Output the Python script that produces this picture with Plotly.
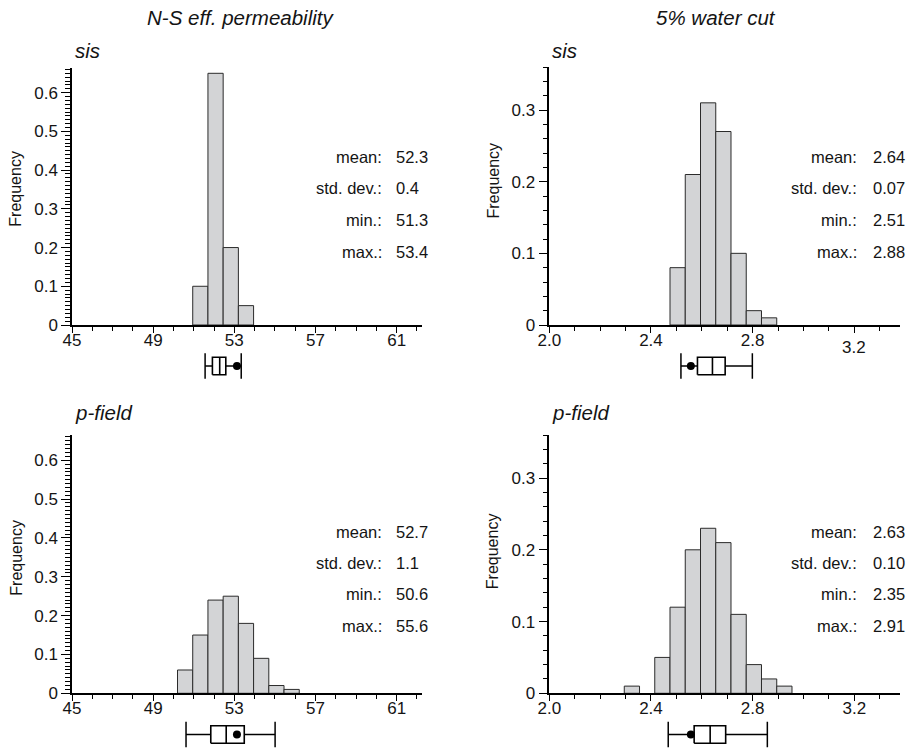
import plotly.graph_objects as go

# ---------------- data ----------------
col_titles = ["N-S eff. permeability", "5% water cut"]
row_titles = ["sis", "p-field"]

# histogram bins (left edges), bin widths and relative frequencies
perm_sis_edges = [50.95, 51.7, 52.45, 53.2]
perm_sis_freq = [0.10, 0.65, 0.20, 0.05]
perm_pf_edges = [50.2, 50.95, 51.7, 52.45, 53.2, 53.95, 54.7, 55.45]
perm_pf_freq = [0.06, 0.15, 0.24, 0.25, 0.18, 0.09, 0.02, 0.01]
perm_bin_width = 0.75

wc_sis_edges = [2.475, 2.535, 2.595, 2.655, 2.715, 2.775, 2.835]
wc_sis_freq = [0.08, 0.21, 0.31, 0.27, 0.10, 0.02, 0.01]
wc_pf_edges = [2.295, 2.415, 2.475, 2.535, 2.595, 2.655, 2.715, 2.775, 2.835, 2.895]
wc_pf_freq = [0.01, 0.05, 0.12, 0.20, 0.23, 0.21, 0.11, 0.04, 0.02, 0.01]
wc_bin_width = 0.06

# box plot summaries: [low whisker, q1, median, q3, high whisker], dot value
perm_sis_box = [51.56, 51.92, 52.28, 52.58, 53.34]
perm_sis_dot = 53.13
perm_pf_box = [50.62, 51.84, 52.60, 53.49, 55.01]
perm_pf_dot = 53.13
wc_sis_box = [2.518, 2.583, 2.642, 2.692, 2.799]
wc_sis_dot = 2.557
wc_pf_box = [2.468, 2.570, 2.633, 2.694, 2.858]
wc_pf_dot = 2.557

stat_labels = ["mean:", "std. dev.:", "min.:", "max.:"]
perm_sis_stats = ["52.3", "0.4", "51.3", "53.4"]
perm_pf_stats = ["52.7", "1.1", "50.6", "55.6"]
wc_sis_stats = ["2.64", "0.07", "2.51", "2.88"]
wc_pf_stats = ["2.63", "0.10", "2.35", "2.91"]

perm_ticks = [45, 49, 53, 57, 61]
wc_ticks = [2.0, 2.4, 2.8, 3.2]
wc_tick_text = ["2.0", "2.4", "2.8", "3.2"]

# ---------------- styling / layout ----------------
W, H = 907, 749
FONT = "Liberation Sans, Arial, Helvetica, sans-serif"
TXT = "#141414"
BAR_FILL = "#d3d4d6"
BAR_LINE = "#2b2b2b"
TICK_SIZE = 17
STAT_SIZE = 16.5


def px_x(p):
    return p / W


def px_y(p):
    return 1 - p / H


panels = [
    dict(xa="x", ya="y", yb="y5", edges=perm_sis_edges, freq=perm_sis_freq, w=perm_bin_width,
         box=perm_sis_box, dot=perm_sis_dot, stats=perm_sis_stats,
         xdom=[px_x(72), px_x(422)], ydom=[px_y(325), px_y(67.5)], bdom=[px_y(379.5), px_y(352.5)],
         yr=[0, 0.665], yminor=0.01, kind="perm", statx=(383.5, 394), staty=[156.7, 188.3, 220, 251.7],
         freqpos=(15.7, 189)),
    dict(xa="x2", ya="y2", yb="y6", edges=wc_sis_edges, freq=wc_sis_freq, w=wc_bin_width,
         box=wc_sis_box, dot=wc_sis_dot, stats=wc_sis_stats,
         xdom=[px_x(549.3), px_x(900)], ydom=[px_y(325), px_y(67)], bdom=[px_y(379.5), px_y(352.5)],
         yr=[0, 0.36], yminor=0.02, kind="wc", statx=(858.5, 871), staty=[156.7, 188.3, 220, 251.7],
         freqpos=(492.5, 181)),
    dict(xa="x3", ya="y3", yb="y7", edges=perm_pf_edges, freq=perm_pf_freq, w=perm_bin_width,
         box=perm_pf_box, dot=perm_pf_dot, stats=perm_pf_stats,
         xdom=[px_x(72), px_x(422)], ydom=[px_y(693.3), px_y(435)], bdom=[px_y(748), px_y(721)],
         yr=[0, 0.665], yminor=0.01, kind="perm", statx=(383.5, 394), staty=[531.7, 562.7, 594, 625.7],
         freqpos=(15.7, 558)),
    dict(xa="x4", ya="y4", yb="y8", edges=wc_pf_edges, freq=wc_pf_freq, w=wc_bin_width,
         box=wc_pf_box, dot=wc_pf_dot, stats=wc_pf_stats,
         xdom=[px_x(549.3), px_x(900)], ydom=[px_y(693.3), px_y(435)], bdom=[px_y(748), px_y(721)],
         yr=[0, 0.36], yminor=0.02, kind="wc", statx=(858.5, 871), staty=[531.7, 562.7, 594, 625.7],
         freqpos=(492.5, 551.7)),
]

fig = go.Figure()
layout = dict(
    width=W, height=H, autosize=False,
    margin=dict(l=0, r=0, t=0, b=0, pad=0),
    paper_bgcolor="white", plot_bgcolor="white",
    showlegend=False,
    font=dict(family=FONT, size=16, color=TXT),
)
annotations = []

BOX_HALF = 0.68   # half height of box (in box-axis units)
CAP_HALF = 1.0    # half height of whisker caps

for i, p in enumerate(panels):
    n = i + 1
    xkey = "xaxis" if n == 1 else f"xaxis{n}"
    ykey = "yaxis" if n == 1 else f"yaxis{n}"
    bkey = f"yaxis{n + 4}"

    # histogram bars
    fig.add_trace(go.Bar(
        x=p["edges"], y=p["freq"], width=p["w"], offset=0,
        xaxis=p["xa"], yaxis=p["ya"],
        marker=dict(color=BAR_FILL, line=dict(color=BAR_LINE, width=1)),
        hoverinfo="x+y",
    ))

    lo, q1, med, q3, hi = p["box"]
    # whisker lines + caps
    fig.add_trace(go.Scatter(
        x=[lo, q1, None, q3, hi, None, lo, lo, None, hi, hi],
        y=[0, 0, None, 0, 0, None, -CAP_HALF, CAP_HALF, None, -CAP_HALF, CAP_HALF],
        mode="lines", line=dict(color="black", width=1.5),
        xaxis=p["xa"], yaxis=p["yb"], hoverinfo="skip",
    ))
    # box + median
    fig.add_trace(go.Scatter(
        x=[q1, q3, q3, q1, q1, None, med, med],
        y=[-BOX_HALF, -BOX_HALF, BOX_HALF, BOX_HALF, -BOX_HALF, None, -BOX_HALF, BOX_HALF],
        mode="lines", line=dict(color="black", width=1.6),
        xaxis=p["xa"], yaxis=p["yb"], hoverinfo="skip",
    ))
    # dot
    fig.add_trace(go.Scatter(
        x=[p["dot"]], y=[0], mode="markers",
        marker=dict(color="black", size=8),
        xaxis=p["xa"], yaxis=p["yb"], hoverinfo="x",
    ))

    if p["kind"] == "perm":
        xr = [45, 62.25]
        xax = dict(tickmode="array", tickvals=perm_ticks, ticktext=[str(t) for t in perm_ticks],
                   minor=dict(ticks="outside", ticklen=4, tickwidth=1, tickcolor="black", dtick=1, tick0=45))
    else:
        xr = [2.0, 3.38]
        texts = list(wc_tick_text)
        if n == 2:
            texts[-1] = ""
        xax = dict(tickmode="array", tickvals=wc_ticks, ticktext=texts,
                   minor=dict(ticks="outside", ticklen=4, tickwidth=1, tickcolor="black", dtick=0.1, tick0=2.0))

    layout[xkey] = dict(
        domain=p["xdom"], range=xr, anchor=p["ya"], automargin=False,
        showline=True, linecolor="black", linewidth=1.5,
        ticks="outside", ticklen=6, tickwidth=1, tickcolor="black",
        ticklabelstandoff=-7,
        showgrid=False, zeroline=False,
        tickfont=dict(family=FONT, size=TICK_SIZE, color=TXT),
        **xax,
    )
    layout[ykey] = dict(
        domain=p["ydom"], range=p["yr"], anchor=p["xa"], automargin=False,
        showline=True, linecolor="black", linewidth=1.5,
        ticks="outside", ticklen=9, tickwidth=1, tickcolor="black",
        dtick=0.1, tick0=0,
        minor=dict(ticks="outside", ticklen=5, tickwidth=1, tickcolor="black", dtick=p["yminor"], tick0=0),
        showgrid=False, zeroline=False,
        tickfont=dict(family=FONT, size=TICK_SIZE, color=TXT),
    )
    layout[bkey] = dict(domain=p["bdom"], range=[-1.05, 1.05], anchor=p["xa"], automargin=False,
                        visible=False, showgrid=False, zeroline=False, fixedrange=True)

    # statistics text
    lx, vx = p["statx"]
    for lab, val, yy in zip(stat_labels, p["stats"], p["staty"]):
        annotations.append(dict(text=lab, x=px_x(lx), y=px_y(yy), xref="paper", yref="paper",
                                xanchor="right", yanchor="middle", showarrow=False,
                                font=dict(family=FONT, size=STAT_SIZE, color=TXT)))
        annotations.append(dict(text=val, x=px_x(vx), y=px_y(yy), xref="paper", yref="paper",
                                xanchor="left", yanchor="middle", showarrow=False,
                                font=dict(family=FONT, size=STAT_SIZE, color=TXT)))

    # y axis title
    fx, fy = p["freqpos"]
    annotations.append(dict(text="Frequency", x=px_x(fx), y=px_y(fy), xref="paper", yref="paper",
                            xanchor="center", yanchor="middle", textangle=-90, showarrow=False,
                            font=dict(family=FONT, size=16, color=TXT)))

# row titles (italic)
for xx, yy, t in [(73, 50, row_titles[0]), (550, 50, row_titles[0]),
                  (73, 413, row_titles[1]), (550, 413, row_titles[1])]:
    annotations.append(dict(text=f"<i>{t}</i>", x=px_x(xx), y=px_y(yy), xref="paper", yref="paper",
                            xanchor="left", yanchor="middle", showarrow=False,
                            font=dict(family=FONT, size=20.5, color=TXT)))

# column titles (italic)
for xx, t in [(240, col_titles[0]), (715.5, col_titles[1])]:
    annotations.append(dict(text=f"<i>{t}</i>", x=px_x(xx), y=px_y(17), xref="paper", yref="paper",
                            xanchor="center", yanchor="middle", showarrow=False,
                            font=dict(family=FONT, size=20.5, color=TXT)))

# displaced 3.2 tick label of top-right panel
annotations.append(dict(text=wc_tick_text[-1], x=wc_ticks[-1], xref="x2", y=px_y(347), yref="paper",
                        xanchor="center", yanchor="middle", showarrow=False,
                        font=dict(family=FONT, size=TICK_SIZE, color=TXT)))

layout["annotations"] = annotations
fig.update_layout(**layout)
fig.write_html("out.html")
